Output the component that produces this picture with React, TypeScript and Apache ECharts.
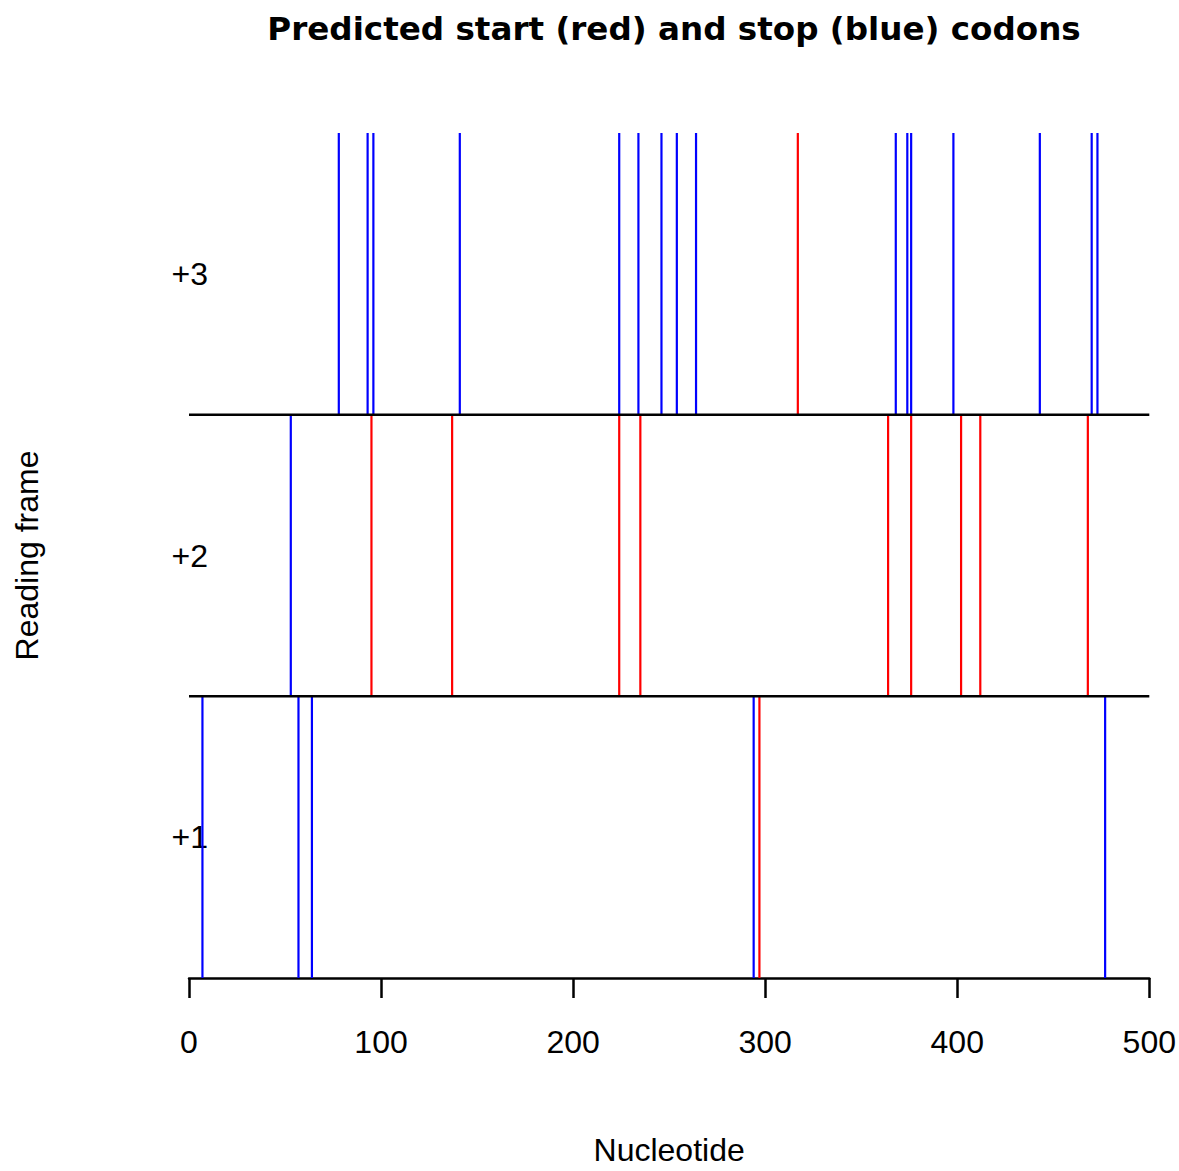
import React, { useEffect, useRef } from "react";
import * as echarts from "echarts";

const frames = [1, 2, 3];
const frameLabels = ["+1", "+2", "+3"];
const xTicks = [0, 100, 200, 300, 400, 500];

// start codons (red) per reading frame
const startFrame1 = [297];
const startFrame2 = [95, 137, 224, 235, 364, 376, 402, 412, 468];
const startFrame3 = [317];

// stop codons (blue) per reading frame
const stopFrame1 = [7, 57, 64, 294, 477];
const stopFrame2 = [53];
const stopFrame3 = [78, 93, 96, 141, 224, 234, 246, 254, 264, 368, 374, 376, 398, 443, 470, 473];

const starts = [startFrame1, startFrame2, startFrame3];
const stops = [stopFrame1, stopFrame2, stopFrame3];

const FONT = "'Liberation Sans', Arial, Helvetica, sans-serif";
const TITLE_FONT = "'DejaVu Sans', 'Liberation Sans', Arial, sans-serif";

export default function App() {
  const ref = useRef<HTMLDivElement>(null);

  useEffect(() => {
    if (!ref.current) return;
    const chart = echarts.init(ref.current, null, { renderer: "svg" });

    const stopData: number[][] = [];
    const startData: number[][] = [];
    frames.forEach((f, i) => {
      stops[i].forEach((x) => stopData.push([x, f - 1, f]));
      starts[i].forEach((x) => startData.push([x, f - 1, f]));
    });
    const separators = [[0, 1, 500], [0, 2, 500]];

    const vline = (color: string) => (params: any, api: any) => {
      const x = api.value(0);
      const p0 = api.coord([x, api.value(1)]);
      const p1 = api.coord([x, api.value(2)]);
      return {
        type: "line",
        shape: { x1: p0[0], y1: p0[1], x2: p1[0], y2: p1[1] },
        style: { stroke: color, lineWidth: 2.2 },
      };
    };

    chart.setOption({
      animation: false,
      backgroundColor: "#ffffff",
      title: {
        text: "Predicted start (red) and stop (blue) codons",
        left: 669,
        top: 7,
        textAlign: "center",
        textStyle: {
          fontFamily: TITLE_FONT,
          fontSize: 32.6,
          fontWeight: "bold",
          color: "#000",
        },
      },
      grid: { left: 189, right: 29, top: 133, height: 852, containLabel: false },
      xAxis: {
        type: "value",
        min: 0,
        max: 500,
        interval: 100,
        name: "Nucleotide",
        nameLocation: "middle",
        nameGap: 156,
        nameTextStyle: { fontFamily: FONT, fontSize: 32, color: "#000" },
        axisLine: { show: true, lineStyle: { color: "#000", width: 2.5 } },
        axisTick: { show: true, length: 20, lineStyle: { color: "#000", width: 2.5 } },
        axisLabel: {
          margin: 48,
          fontFamily: FONT,
          fontSize: 32,
          color: "#000",
          formatter: (v: number) => (xTicks.includes(v) ? String(v) : ""),
        },
        splitLine: { show: false },
      },
      yAxis: {
        type: "value",
        min: 0,
        max: 3,
        interval: 0.5,
        name: "Reading frame",
        nameLocation: "middle",
        nameGap: 146,
        nameRotate: 90,
        nameTextStyle: { fontFamily: FONT, fontSize: 32, color: "#000" },
        axisLine: { show: false },
        axisTick: { show: false },
        splitLine: { show: false },
        axisLabel: {
          margin: -19,
          fontFamily: FONT,
          fontSize: 32,
          color: "#000",
          formatter: (v: number) => {
            const idx = Math.round(v - 0.5);
            return Math.abs(v - idx - 0.5) < 1e-6 ? frameLabels[idx] : "";
          },
        },
      },
      series: [
        {
          type: "custom",
          name: "stop",
          data: stopData,
          renderItem: vline("#0000ff"),
          encode: { x: 0, y: [1, 2] },
          z: 2,
        },
        {
          type: "custom",
          name: "start",
          data: startData,
          renderItem: vline("#ff0000"),
          encode: { x: 0, y: [1, 2] },
          z: 3,
        },
        {
          type: "custom",
          name: "frames",
          data: separators,
          encode: { x: [0, 2], y: 1 },
          renderItem: (params: any, api: any) => {
            const p0 = api.coord([api.value(0), api.value(1)]);
            const p1 = api.coord([api.value(2), api.value(1)]);
            return {
              type: "line",
              shape: { x1: p0[0], y1: p0[1], x2: p1[0], y2: p1[1] },
              style: { stroke: "#000", lineWidth: 2.5 },
            };
          },
          z: 4,
        },
      ],
    });

    return () => chart.dispose();
  }, []);

  return (
    <div
      ref={ref}
      style={{ position: "absolute", left: 0, top: 0, width: 1179, height: 1171 }}
    />
  );
}
